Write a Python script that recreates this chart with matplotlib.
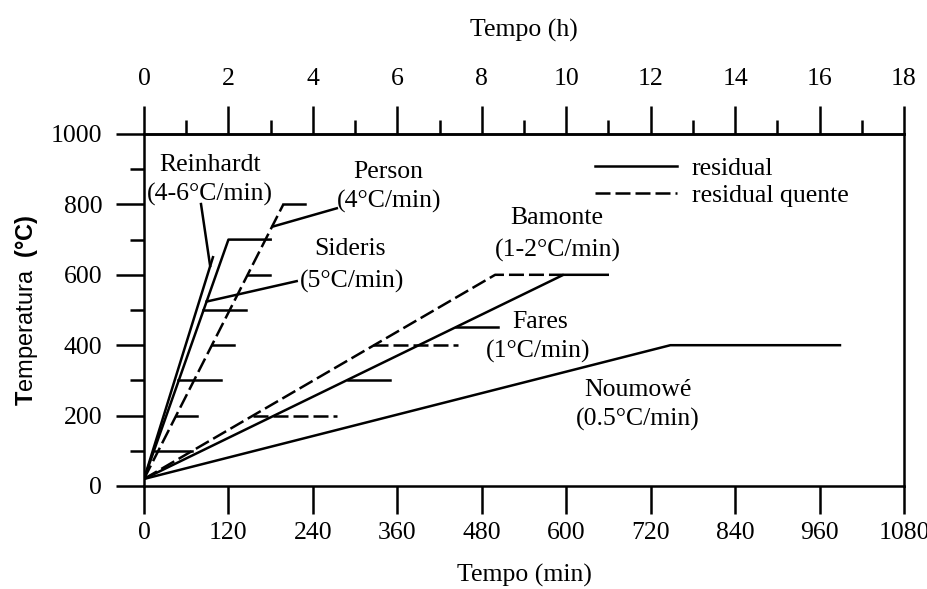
import matplotlib
matplotlib.use("Agg")
import matplotlib.pyplot as plt
from matplotlib.ticker import MultipleLocator

plt.rcParams['font.family'] = ['Liberation Serif', 'DejaVu Serif']
plt.rcParams['mathtext.fontset'] = 'custom'
plt.rcParams['mathtext.rm'] = 'Liberation Sans'
plt.rcParams['mathtext.bf'] = 'Liberation Sans:bold'

# heating curves (time in min, temperature in C)
sideris_t = [0, 120, 180]
sideris_T = [20, 700, 700]
reinhardt_t = [0, 98]
reinhardt_T = [20, 650]
person_t = [0, 198]
person_T = [20, 800]
bamonte_q_t = [0, 499, 596]
bamonte_q_T = [20, 600, 600]
bamonte_r_t = [0, 596, 659]
bamonte_r_T = [20, 600, 600]
noumowe_t = [0, 748, 989]
noumowe_T = [20, 400, 400]

# hold segments: (temperature, start, end)
holds_solid = [(100, 15, 68), (300, 49, 109), (500, 84, 145),
               (200, 45, 76), (400, 96, 128), (600, 148, 179), (800, 198, 229),
               (300, 290, 350)]
holds_dashed = [(200, 155, 274), (400, 326, 446)]

# leader lines for the labels
leaders = [((81, 94), (801, 625)), ((183, 274), (737, 789)),
           ((89, 217), (524, 582)), ((444, 503), (451, 451))]

labels = [("Reinhardt", 94, 912), ("(4-6°C/min)", 94, 829),
          ("Person", 347, 892), ("(4°C/min)", 348, 807),
          ("Sideris", 293, 673), ("(5°C/min)", 296, 582),
          ("Bamonte", 586, 761), ("(1-2°C/min)", 588, 670),
          ("Fares", 563, 466), ("(1°C/min)", 560, 381),
          ("Noumowé", 702, 273), ("(0.5°C/min)", 702, 190)]

fs = 18.5
lw = 1.8
dash = (6, 2)

fig = plt.figure(figsize=(9.28, 5.89), dpi=100)
ax = fig.add_axes([144/928, 1-486/589, 760/928, 352/589])

l1, = ax.plot(sideris_t, sideris_T, color='black', lw=lw, label='residual')
ax.plot(reinhardt_t, reinhardt_T, color='black', lw=lw)
ax.plot(person_t, person_T, color='black', lw=lw, dashes=dash)
l2, = ax.plot(bamonte_q_t, bamonte_q_T, color='black', lw=lw, dashes=dash,
              label='residual quente')
ax.plot(bamonte_r_t, bamonte_r_T, color='black', lw=lw)
ax.plot(noumowe_t, noumowe_T, color='black', lw=lw)

for T, a, b in holds_solid:
    ax.plot([a, b], [T, T], color='black', lw=lw)
for T, a, b in holds_dashed:
    ax.plot([a, b], [T, T], color='black', lw=lw, dashes=dash)
for xs, ys in leaders:
    ax.plot(xs, ys, color='black', lw=lw)

for s, x, y in labels:
    ax.text(x, y, s, fontsize=fs, ha='center', va='center')

ax.legend(handles=[l1, l2], loc='upper left', bbox_to_anchor=(0.593, 0.935),
          frameon=False, fontsize=fs, handlelength=3.2, handletextpad=0.58,
          labelspacing=0.15, borderpad=0, borderaxespad=0)

ax.set_xlim(0, 1080)
ax.set_ylim(0, 1000)
ax.xaxis.set_major_locator(MultipleLocator(120))
ax.yaxis.set_major_locator(MultipleLocator(200))
ax.yaxis.set_minor_locator(MultipleLocator(100))
ax.tick_params(axis='x', which='major', direction='out', length=20, width=lw,
               labelsize=fs, pad=6)
ax.tick_params(axis='y', which='major', direction='out', length=20, width=lw,
               labelsize=fs, pad=10)
ax.tick_params(axis='y', which='minor', direction='out', length=10, width=lw)
for sp in ax.spines.values():
    sp.set_linewidth(lw)

sec = ax.secondary_xaxis('top', functions=(lambda m: m / 60, lambda h: h * 60))
sec.xaxis.set_major_locator(MultipleLocator(2))
sec.xaxis.set_minor_locator(MultipleLocator(1))
sec.tick_params(which='major', direction='out', length=20, width=lw,
                labelsize=fs, pad=12)
sec.tick_params(which='minor', direction='out', length=10, width=lw)
sec.spines['top'].set_linewidth(lw)
sec.set_xlabel('Tempo (h)', fontsize=fs, labelpad=22)

ax.set_xlabel('Tempo (min)', fontsize=fs, labelpad=14)
ax.set_ylabel(r'$\mathbf{T}$emperatura  $\mathbf{(°C)}$', fontsize=17,
              family='Liberation Sans')
ax.yaxis.set_label_coords(-0.137, 0.5)

fig.savefig('out.png', dpi=100)
